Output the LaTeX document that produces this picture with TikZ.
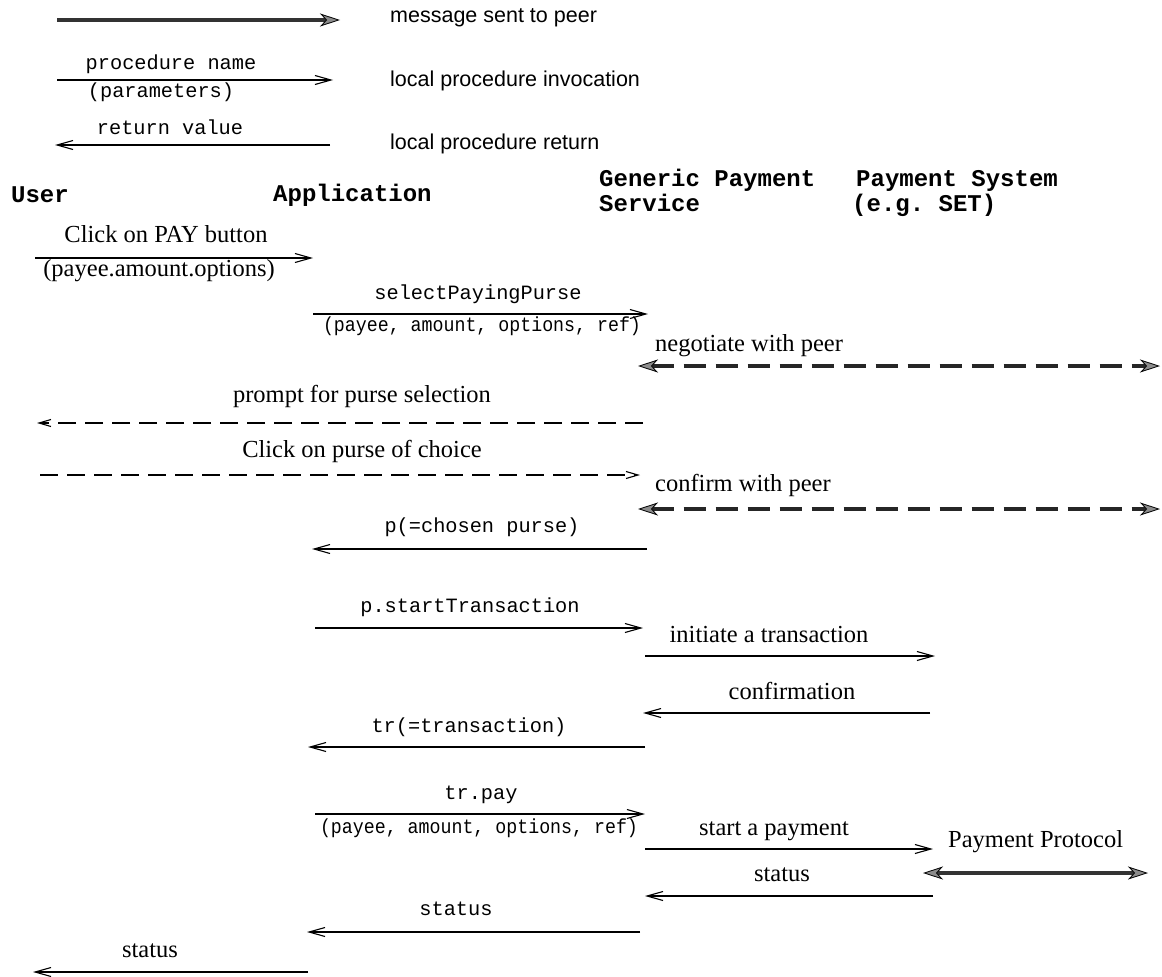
\documentclass[tikz,border=0pt]{standalone}
\usepackage{fontspec}
\setmainfont{Liberation Serif}
\setsansfont{Liberation Sans}
\setmonofont{Liberation Mono}
\usetikzlibrary{arrows.meta}
\tikzset{
  lbl/.style={inner sep=0pt, text height=0.7em, text depth=0.2em},
  ser/.style={lbl, font=\fontsize{24.5}{28}\selectfont},
  mono/.style={lbl, font=\ttfamily\fontsize{20.3}{24}\selectfont},
  hdr/.style={inner sep=0pt, text height=0.6em, text depth=0.1em, anchor=west, font=\ttfamily\bfseries\fontsize{24}{26}\selectfont},
  leg/.style={lbl, anchor=west, font=\sffamily\fontsize{21.5}{24}\selectfont},
  call/.style={line width=1.2pt, -{Straight Barb[length=16pt,width=9pt,line width=1.1pt]}},
  ui/.style={line width=1.2pt, dash pattern=on 18pt off 9pt, -{Straight Barb[length=12pt,width=7pt,line width=1.1pt]}},
  ptip/.tip={Stealth[length=20pt,width=13pt,inset=6pt,line width=0.8pt,color=black,fill=black!45]},
  peer/.style={line width=4pt, draw=black!85, dash pattern=on 22pt off 10pt, ptip-ptip},
  peersolid/.style={line width=4pt, draw=black!80},
}
\begin{document}
\begin{tikzpicture}[x=1pt,y=-1pt]
\useasboundingbox (0,0) rectangle (1162,977);
% legend
\coordinate (L1s) at (57,20); \coordinate (L1e) at (340,20);
\draw[peersolid,-ptip] (L1s) -- (L1e);
\node[leg] (Lt1) at (390,20) {message sent to peer};
\node[mono] (Lpn) at (171,67) {procedure name};
\coordinate (L2s) at (57,80); \coordinate (L2e) at (333,80);
\draw[call] (L2s) -- (L2e);
\node[mono] (Lpar) at (161,95) {(parameters)};
\node[leg] (Lt2) at (390,84) {local procedure invocation};
\node[mono] (Lrv) at (170,132) {return value};
\coordinate (L3s) at (330,145); \coordinate (L3e) at (55,145);
\draw[call] (L3s) -- (L3e);
\node[leg] (Lt3) at (390,147) {local procedure return};
% headers
\node[hdr] (hU) at (11,200) {User};
\node[hdr] (hA) at (273,199) {Application};
\node[hdr] (hG1) at (599,184) {Generic Payment};
\node[hdr] (hG2) at (599,209) {Service};
\node[hdr] (hP1) at (856,184) {Payment System};
\node[hdr] (hP2) at (852,209) {(e.g. SET)};
% 1
\node[ser] (m1) at (166,240) {Click on PAY button};
\coordinate (a1s) at (35,258); \coordinate (a1e) at (313,258);
\draw[call] (a1s) -- (a1e);
\node[ser] (m1p) at (159,274) {(payee.amount.options)};
% 2
\node[mono] (m2) at (478,297) {selectPayingPurse};
\coordinate (a2s) at (313,314); \coordinate (a2e) at (648,314);
\draw[call] (a2s) -- (a2e);
\node[mono] (m2p) at (482,329) {\scalebox{0.9}[1]{(payee, amount, options, ref)}};
% 3
\node[ser,anchor=west] (m3) at (655,349) {negotiate with peer};
\coordinate (a3s) at (638,366); \coordinate (a3e) at (1160,366);
\draw[peer] (a3s) -- (a3e);
% 4
\node[ser] (m4) at (362,400) {prompt for purse selection};
\coordinate (a4s) at (643,423); \coordinate (a4e) at (37,423);
\draw[ui] (a4s) -- (a4e);
% 5
\node[ser] (m5) at (362,455) {Click on purse of choice};
\coordinate (a5s) at (40,475); \coordinate (a5e) at (640,475);
\draw[ui] (a5s) -- (a5e);
% 6
\node[ser,anchor=west] (m6) at (655,489) {confirm with peer};
\coordinate (a6s) at (638,509); \coordinate (a6e) at (1160,509);
\draw[peer] (a6s) -- (a6e);
% 7
\node[mono] (m7) at (482,530) {p(=chosen purse)};
\coordinate (a7s) at (647,549); \coordinate (a7e) at (312,549);
\draw[call] (a7s) -- (a7e);
% 8
\node[mono] (m8) at (470,610) {p.startTransaction};
\coordinate (a8s) at (315,628); \coordinate (a8e) at (643,628);
\draw[call] (a8s) -- (a8e);
% 9
\node[ser] (m9) at (769,640) {initiate a transaction};
\coordinate (a9s) at (645,656); \coordinate (a9e) at (935,656);
\draw[call] (a9s) -- (a9e);
% 10
\node[ser] (m10) at (792,697) {confirmation};
\coordinate (a10s) at (930,713); \coordinate (a10e) at (643,713);
\draw[call] (a10s) -- (a10e);
% 11
\node[mono] (m11) at (469,730) {tr(=transaction)};
\coordinate (a11s) at (645,747); \coordinate (a11e) at (308,747);
\draw[call] (a11s) -- (a11e);
% 12
\node[mono] (m12) at (481,797) {tr.pay};
\coordinate (a12s) at (315,814); \coordinate (a12e) at (645,814);
\draw[call] (a12s) -- (a12e);
\node[mono] (m12p) at (479,831) {\scalebox{0.9}[1]{(payee, amount, options, ref)}};
% 13
\node[ser] (m13) at (774,833) {start a payment};
\coordinate (a13s) at (645,849); \coordinate (a13e) at (933,849);
\draw[call] (a13s) -- (a13e);
% 14
\node[ser,anchor=west] (m14) at (948,845) {Payment Protocol};
\coordinate (a14s) at (923,873); \coordinate (a14e) at (1148,873);
\draw[peersolid,ptip-ptip] (a14s) -- (a14e);
% 15
\node[ser] (m15) at (782,879) {status};
\coordinate (a15s) at (933,896); \coordinate (a15e) at (645,896);
\draw[call] (a15s) -- (a15e);
% 16
\node[mono] (m16) at (456,913) {status};
\coordinate (a16s) at (640,932); \coordinate (a16e) at (307,932);
\draw[call] (a16s) -- (a16e);
% 17
\node[ser] (m17) at (150,955) {status};
\coordinate (a17s) at (308,972); \coordinate (a17e) at (33,972);
\draw[call] (a17s) -- (a17e);
\end{tikzpicture}
\end{document}
